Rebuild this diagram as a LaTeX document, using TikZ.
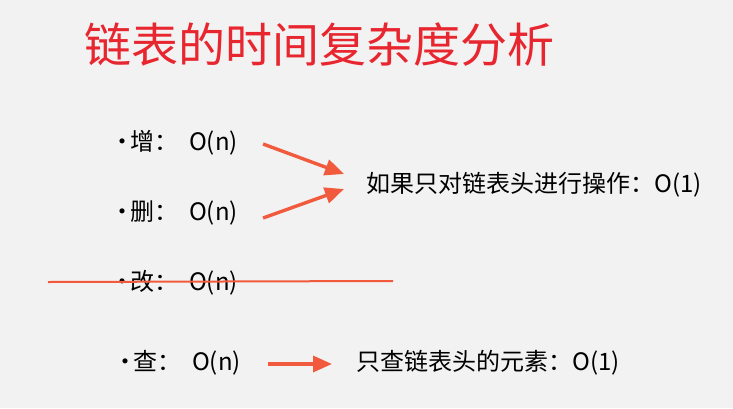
\documentclass[tikz,border=0pt]{standalone}
\usepackage{fontspec}
\newfontfamily\cjk{Noto Sans CJK SC}
\usetikzlibrary{positioning,arrows.meta}
\definecolor{titlered}{HTML}{E8262F}
\definecolor{penred}{HTML}{F15A3C}
\definecolor{paper}{HTML}{F2F2F2}

\begin{document}
\begin{tikzpicture}[x=1pt,y=-1pt,
				item/.style={anchor=west, inner sep=0pt, font=\cjk\fontsize{24}{28}\selectfont},
				pen/.style={draw=penred, line width=3.4pt, -{Triangle[length=19pt,width=16pt]}},
				strike/.style={draw=penred, line width=2pt}
				]
				\fill[paper] (0,0) rectangle (733,408);
				\node[font=\cjk\fontsize{47}{52}\selectfont, text=titlered, anchor=west, inner sep=0pt] (title) at (84,45) {链表的时间复杂度分析};
				
				\node[item] (zeng) at (110,143) {•\hspace{-4pt}增：\hspace{11pt}O(n)};
				\node[item] (shan) at (110,213) {•\hspace{-4pt}删：\hspace{11pt}O(n)};
				\node[item] (gai) at (110,283) {•\hspace{-4pt}改：\hspace{11pt}O(n)};
				\node[item] (cha) at (113,363) {•\hspace{-4pt}查：\hspace{11pt}O(n)};
				
				\node[item] (ops) at (366,185) {如果只对链表头进行操作：O(1)};
				\node[item] (head) at (356,363) {只查链表头的元素：O(1)};
				
				\draw[pen] ([xshift=25pt,yshift=-1pt]zeng.east) -- ([xshift=-22pt,yshift=11pt]ops.west);
				\draw[pen] ([xshift=25pt,yshift=-5pt]shan.east) -- ([xshift=-22pt,yshift=-4pt]ops.west);
				\draw[pen] ([xshift=27pt,yshift=-1pt]cha.east) -- ([xshift=-24pt,yshift=-1pt]head.west);
				
				\coordinate (s1) at (48,282);
				\coordinate (s2) at (393,281);
				\draw[strike] (s1) -- (s2);
			\end{tikzpicture}
\end{document}
